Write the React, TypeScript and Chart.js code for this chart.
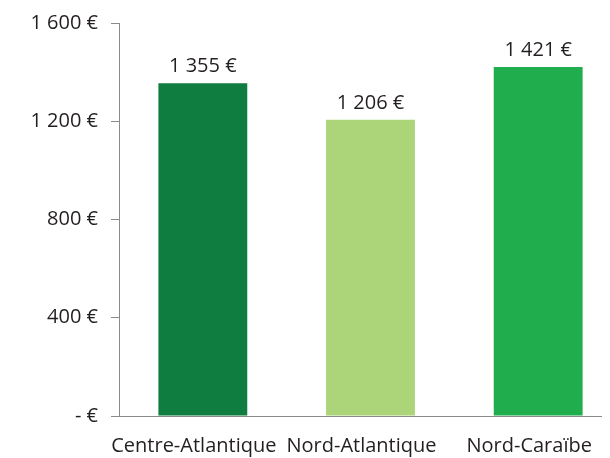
import React, { useEffect, useRef } from "react";
import { Chart, registerables } from "chart.js";

Chart.register(...registerables);

const categories = ["Centre-Atlantique", "Nord-Atlantique", "Nord-Caraïbe"];
const values = [1355, 1206, 1421];
const barColors = ["#0f7d3f", "#acd57a", "#20ad4e"];
const yMin = 0;
const yMax = 1600;
const yStep = 400;

const FONT = "'Open Sans', sans-serif";
const TEXT = "#231f20";
const AXIS = "#8a8a8a";

const fmtEuro = (v: number) =>
  v === 0 ? "- €" : String(v).replace(/\B(?=(\d{3})+(?!\d))/g, " ") + " €";

const valueLabels = {
  id: "valueLabels",
  afterDatasetsDraw(chart: any) {
    const ctx = chart.ctx;
    const meta = chart.getDatasetMeta(0);
    ctx.save();
    ctx.font = `20px ${FONT}`;
    ctx.fillStyle = TEXT;
    ctx.textAlign = "center";
    ctx.textBaseline = "alphabetic";
    meta.data.forEach((bar: any, i: number) => {
      const v = chart.data.datasets[0].data[i] as number;
      ctx.fillText(fmtEuro(v), bar.x, bar.y - 11);
    });
    ctx.restore();
  },
};

export default function App() {
  const ref = useRef<HTMLCanvasElement | null>(null);

  useEffect(() => {
    if (!ref.current) return;
    const chart = new Chart(ref.current, {
      type: "bar",
      data: {
        labels: categories,
        datasets: [
          {
            data: values,
            backgroundColor: barColors,
            borderWidth: 0,
            categoryPercentage: 1,
            barPercentage: 0.53,
          },
        ],
      },
      options: {
        responsive: false,
        animation: false,
        layout: { padding: { top: 15, right: 6, left: 0, bottom: 0 } },
        plugins: {
          legend: { display: false },
          tooltip: { enabled: false },
        },
        scales: {
          x: {
            offset: true,
            grid: { display: false },
            border: { display: true, color: AXIS, width: 1 },
            ticks: {
              color: TEXT,
              font: { family: FONT, size: 20 },
              padding: 10,
              labelOffset: -9,
              maxRotation: 0,
              autoSkip: false,
            },
            afterFit(scale: any) {
              scale.height = 42;
              scale.paddingLeft = 0;
              scale.paddingRight = 0;
            },
          },
          y: {
            min: yMin,
            max: yMax,
            grid: {
              display: true,
              drawOnChartArea: false,
              drawTicks: true,
              tickLength: 8,
              color: AXIS,
            },
            border: { display: true, color: AXIS, width: 1 },
            ticks: {
              stepSize: yStep,
              color: TEXT,
              font: { family: FONT, size: 20 },
              padding: 13,
              callback: (v: any) => fmtEuro(Number(v)),
            },
            afterFit(scale: any) {
              scale.width = 111;
              scale.paddingTop = 0;
              scale.paddingBottom = 0;
            },
          },
        },
      },
      plugins: [valueLabels],
    });
    return () => chart.destroy();
  }, []);

  return (
    <div style={{ width: 594, height: 450, overflow: "hidden" }}>
      <canvas ref={ref} width={620} height={450} style={{ display: "block" }} />
    </div>
  );
}
